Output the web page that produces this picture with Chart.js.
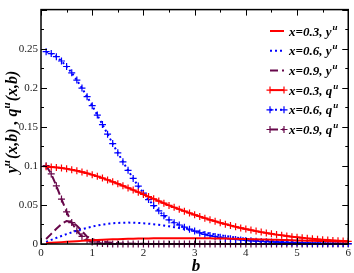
<!DOCTYPE html>
<html>
<head>
<meta charset="utf-8">
<script src="https://cdn.jsdelivr.net/npm/chart.js@4.4.1/dist/chart.umd.min.js"></script>
<style>
  html, body { margin: 0; padding: 0; background: #fff; }
  #wrap { width: 354px; height: 273px; }
</style>
</head>
<body>
<div id="wrap"><canvas id="chart" width="354" height="273"></canvas></div>
<script>
const bValues = [
  0.1, 0.2, 0.3, 0.4, 0.5, 0.6, 0.7, 0.8, 0.9, 1.0,
  1.1, 1.2, 1.3, 1.4, 1.5, 1.6, 1.7, 1.8, 1.9, 2.0,
  2.1, 2.2, 2.3, 2.4, 2.5, 2.6, 2.7, 2.8, 2.9, 3.0,
  3.1, 3.2, 3.3, 3.4, 3.5, 3.6, 3.7, 3.8, 3.9, 4.0,
  4.1, 4.2, 4.3, 4.4, 4.5, 4.6, 4.7, 4.8, 4.9, 5.0,
  5.1, 5.2, 5.3, 5.4, 5.5, 5.6, 5.7, 5.8, 5.9, 6.0
];

const yU03 = [
  0.0012, 0.0016, 0.002, 0.0024, 0.0028, 0.0032, 0.0036, 0.004, 0.0044, 0.0048,
  0.0051, 0.0054, 0.0057, 0.006, 0.0062, 0.0064, 0.0066, 0.0068, 0.0069, 0.007,
  0.0071, 0.0072, 0.0073, 0.0073, 0.0074, 0.0074, 0.0074, 0.0074, 0.0074, 0.0074,
  0.0073, 0.0073, 0.0072, 0.0071, 0.007, 0.0069, 0.0068, 0.0066, 0.0065, 0.0063,
  0.0062, 0.006, 0.0058, 0.0057, 0.0055, 0.0053, 0.0051, 0.005, 0.0048, 0.0046,
  0.0044, 0.0043, 0.0041, 0.0039, 0.0038, 0.0036, 0.0035, 0.0033, 0.0032, 0.003
];

const yU06 = [
  0.0027, 0.0053, 0.0078, 0.0103, 0.0127, 0.0149, 0.0171, 0.019, 0.0207, 0.0223,
  0.0237, 0.0248, 0.0257, 0.0265, 0.027, 0.0273, 0.0274, 0.0273, 0.027, 0.0266,
  0.026, 0.0253, 0.0245, 0.0236, 0.0226, 0.0215, 0.0204, 0.0192, 0.018, 0.0169,
  0.0157, 0.0145, 0.0134, 0.0123, 0.0112, 0.0102, 0.0093, 0.0084, 0.0075, 0.0067,
  0.006, 0.0053, 0.0047, 0.0041, 0.0036, 0.0032, 0.0028, 0.0024, 0.0021, 0.0018,
  0.0015, 0.0013, 0.0011, 0.0009, 0.0008, 0.0007, 0.0006, 0.0005, 0.0004, 0.0003
];

const yU09 = [
  0.0065, 0.013, 0.0195, 0.0255, 0.0295, 0.0285, 0.0235, 0.0165, 0.0095, 0.0062,
  0.0042, 0.003, 0.0022, 0.0016, 0.0011, 0.0008, 0.0005, 0.0003, 0.0002, 0.0002,
  0.0001, 0.0001, 0.0001, 0.0001, 0.0001, 0.0001, 0.0001, 0.0001, 0.0001, 0.0001,
  0, 0, 0, 0, 0, 0, 0, 0, 0, 0,
  0, 0, 0, 0, 0, 0, 0, 0, 0, 0,
  0, 0, 0, 0, 0, 0, 0, 0, 0, 0
];

const qU03 = [
  0.0989, 0.0986, 0.098, 0.0973, 0.0963, 0.0951, 0.0938, 0.0922, 0.0905, 0.0886,
  0.0866, 0.0844, 0.082, 0.0796, 0.0771, 0.0745, 0.0718, 0.0691, 0.0663, 0.0635,
  0.0607, 0.0578, 0.055, 0.0522, 0.0494, 0.0469, 0.0445, 0.042, 0.0397, 0.0374,
  0.0352, 0.0331, 0.031, 0.0291, 0.0272, 0.0254, 0.0237, 0.0221, 0.0206, 0.0191,
  0.0178, 0.0165, 0.0152, 0.0141, 0.013, 0.012, 0.0111, 0.0102, 0.0094, 0.0086,
  0.0079, 0.0072, 0.0066, 0.006, 0.0055, 0.005, 0.0046, 0.0042, 0.0038, 0.0034
];

const qU06 = [
  0.2462, 0.2437, 0.2397, 0.2342, 0.2272, 0.2191, 0.2098, 0.1995, 0.1886, 0.177,
  0.165, 0.1528, 0.1406, 0.1285, 0.1167, 0.1052, 0.0943, 0.0839, 0.0741, 0.0651,
  0.0568, 0.0492, 0.0424, 0.0362, 0.0308, 0.0272, 0.0243, 0.0215, 0.019, 0.0165,
  0.0142, 0.0122, 0.0108, 0.0096, 0.0085, 0.0075, 0.0066, 0.0058, 0.0052, 0.0046,
  0.0041, 0.0036, 0.0032, 0.0029, 0.0026, 0.0023, 0.0021, 0.0019, 0.0017, 0.0015,
  0.0014, 0.0012, 0.0011, 0.001, 0.0009, 0.0008, 0.0007, 0.0007, 0.0006, 0.0005
];

const qU09 = [
  0.1002, 0.0897, 0.0745, 0.0575, 0.0412, 0.0274, 0.0169, 0.0097, 0.0052, 0.0026,
  0.0012, 0.0005, 0.0002, 0.0001, 0, 0, 0, 0, 0, 0,
  0, 0, 0, 0, 0, 0, 0, 0, 0, 0,
  0, 0, 0, 0, 0, 0, 0, 0, 0, 0,
  0, 0, 0, 0, 0, 0, 0, 0, 0, 0,
  0, 0, 0, 0, 0, 0, 0, 0, 0, 0
];

const legendLabels = ["x=0.3, y", "x=0.6, y", "x=0.9, y", "x=0.3, q", "x=0.6, q", "x=0.9, q"];
const legendSup = "u";

const RED = "#ff0000";
const BLUE = "#0000ff";
const MAROON = "#67074a";
const DOTS = [2, 3];
const DASHES = [8, 4];
const SERIF = '"Liberation Serif", "Times New Roman", serif';

function toPoints(values) {
  return bValues.map((b, i) => ({ x: b, y: values[i] }));
}

function makeSet(label, values, color, dash, markers) {
  return {
    label,
    data: toPoints(values),
    borderColor: color,
    backgroundColor: color,
    borderWidth: 2,
    borderDash: dash,
    pointStyle: "cross",
    pointRadius: markers ? 3.5 : 0,
    pointBorderWidth: 1.2,
    pointBorderColor: color,
    tension: 0,
    clip: false,
  };
}

const datasets = [
  makeSet(legendLabels[0], yU03, RED, [], false),
  makeSet(legendLabels[1], yU06, BLUE, DOTS, false),
  makeSet(legendLabels[2], yU09, MAROON, DASHES, false),
  makeSet(legendLabels[3], qU03, RED, [], true),
  makeSet(legendLabels[4], qU06, BLUE, DOTS, true),
  makeSet(legendLabels[5], qU09, MAROON, DASHES, true),
];

function drawCross(ctx, x, y, r) {
  ctx.beginPath();
  ctx.moveTo(x - r, y);
  ctx.lineTo(x + r, y);
  ctx.moveTo(x, y - r);
  ctx.lineTo(x, y + r);
  ctx.stroke();
}

// frame with inward ticks, titles and the legend
const decorPlugin = {
  id: "decor",
  afterDraw(chart) {
    const { ctx, chartArea: a, scales } = chart;
    const xs = scales.x;
    const ys = scales.y;
    ctx.save();

    ctx.strokeStyle = "#000";
    ctx.setLineDash([]);
    ctx.lineWidth = 1;
    for (let v = 0; v <= 6.001; v += 0.5) {
      const px = Math.round(xs.getPixelForValue(v)) + 0.5;
      const len = Math.abs(v - Math.round(v)) < 1e-6 ? 6 : 3;
      ctx.beginPath();
      ctx.moveTo(px, a.bottom); ctx.lineTo(px, a.bottom - len);
      ctx.moveTo(px, a.top); ctx.lineTo(px, a.top + len);
      ctx.stroke();
    }
    for (let k = 0; k <= 12; k++) {
      const py = Math.round(ys.getPixelForValue(k * 0.025)) + 0.5;
      const len = k % 2 === 0 ? 6 : 3;
      ctx.beginPath();
      ctx.moveTo(a.left, py); ctx.lineTo(a.left + len, py);
      ctx.moveTo(a.right, py); ctx.lineTo(a.right - len, py);
      ctx.stroke();
    }
    ctx.lineWidth = 1.5;
    ctx.strokeRect(a.left, a.top, a.right - a.left, a.bottom - a.top);

    // x title
    ctx.fillStyle = "#000";
    ctx.font = "italic bold 17px " + SERIF;
    ctx.textAlign = "center";
    ctx.textBaseline = "alphabetic";
    ctx.fillText("b", 196, 271);

    // y title with superscripts
    const mainFont = "italic bold 16px " + SERIF;
    const supFont = "italic bold 11px " + SERIF;
    const pieces = [
      ["y", mainFont, 0], [legendSup, supFont, -7],
      ["(x,b) , q", mainFont, 0], [legendSup, supFont, -7],
      ["(x,b)", mainFont, 0],
    ];
    let total = 0;
    pieces.forEach((p) => { ctx.font = p[1]; total += ctx.measureText(p[0]).width + (p[2] ? 1 : 0); });
    ctx.translate(17, 122);
    ctx.rotate(-Math.PI / 2);
    ctx.textAlign = "left";
    let cx = -total / 2;
    pieces.forEach((p) => {
      ctx.font = p[1];
      ctx.fillText(p[0], cx, p[2]);
      cx += ctx.measureText(p[0]).width + (p[2] ? 1 : 0);
    });
    ctx.setTransform(1, 0, 0, 1, 0, 0);

    // legend
    chart.data.datasets.forEach((ds, i) => {
      const yy = 31 + i * 19.7;
      ctx.strokeStyle = ds.borderColor;
      ctx.lineWidth = 2;
      ctx.setLineDash(ds.borderDash);
      ctx.beginPath();
      ctx.moveTo(270, yy);
      ctx.lineTo(284, yy);
      ctx.stroke();
      ctx.setLineDash([]);
      if (ds.pointRadius > 0) {
        ctx.lineWidth = 1.2;
        drawCross(ctx, 270, yy, 3.5);
        drawCross(ctx, 284, yy, 3.5);
      }
      ctx.fillStyle = "#000";
      ctx.textAlign = "left";
      ctx.font = "italic bold 13px " + SERIF;
      ctx.fillText(legendLabels[i], 289, yy + 4.5);
      const w = ctx.measureText(legendLabels[i]).width;
      ctx.font = "italic bold 9px " + SERIF;
      ctx.fillText(legendSup, 289 + w + 1, yy - 1.5);
    });

    ctx.restore();
  },
};

new Chart(document.getElementById("chart"), {
  type: "line",
  data: { datasets },
  options: {
    responsive: false,
    devicePixelRatio: 1,
    animation: false,
    events: [],
    layout: { padding: { top: 2, right: 4, left: 0, bottom: 0 } },
    plugins: { legend: { display: false }, tooltip: { enabled: false } },
    scales: {
      x: {
        type: "linear",
        min: 0,
        max: 6,
        grid: { display: false, drawTicks: false },
        border: { display: false },
        ticks: {
          stepSize: 1,
          padding: 3,
          color: "#222",
          maxRotation: 0,
          font: { family: SERIF, size: 11 },
        },
        afterFit(scale) { scale.height = 29; },
      },
      y: {
        type: "linear",
        min: 0,
        max: 0.3,
        grid: { display: false, drawTicks: false },
        border: { display: false },
        ticks: {
          stepSize: 0.05,
          padding: 3,
          color: "#222",
          font: { family: SERIF, size: 11 },
          callback: (v) => (v > 0.29 ? "" : String(+v.toFixed(2))),
        },
        afterFit(scale) { scale.width = 41; },
      },
    },
  },
  plugins: [decorPlugin],
});
</script>
</body>
</html>
